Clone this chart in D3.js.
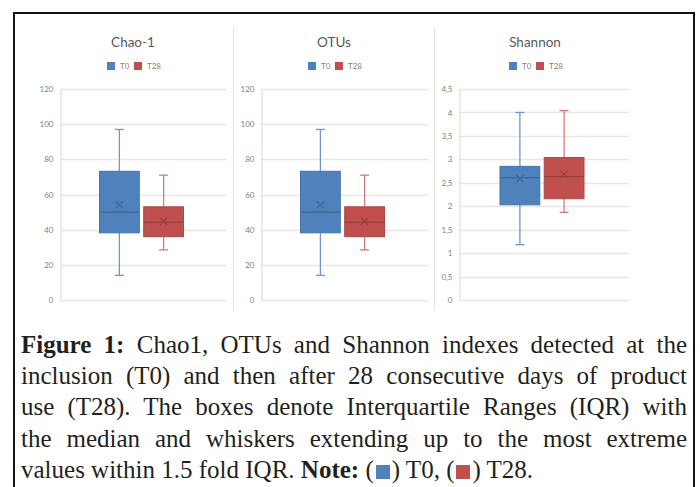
<!DOCTYPE html>
<html>
<head>
<meta charset="utf-8">
<script src="https://cdn.jsdelivr.net/npm/d3@7"></script>
<style>
  body { margin: 0; background: #fff; }
  #wrap { position: relative; width: 700px; height: 487px; overflow: hidden; }
  #chart { position: absolute; left: 0; top: 0; }
  #caption {
    position: absolute; left: 21px; top: 329px; width: 666px;
    font-family: "Liberation Serif", "Times New Roman", serif;
    font-size: 25px; line-height: 31.2px; color: #231f20;
  }
  #caption .line { text-align: justify; text-align-last: justify; white-space: nowrap; }
  #caption .line.last { text-align-last: left; }
  #caption .sq { display: inline-block; width: 14px; height: 14px; vertical-align: -1px; margin: 0 2px; }
</style>
</head>
<body>
<div id="wrap">
  <svg id="chart" width="700" height="487"></svg>
  <div id="caption"></div>
</div>
<script>
// data
const panelTitles = ["Chao-1", "OTUs", "Shannon"];
const groups = ["T0", "T28"];
const yMax = [120, 120, 4.5];
const yStep = [20, 20, 0.5];
const whiskerMin = [[14, 28.5], [14, 28.5], [1.18, 1.87]];
const q1 = [[38.2, 36], [38.2, 36], [2.03, 2.16]];
const median = [[50, 44.3], [50, 44.3], [2.61, 2.63]];
const q3 = [[73.2, 53], [73.2, 53], [2.85, 3.04]];
const whiskerMax = [[97, 71], [97, 71], [4.0, 4.04]];
const mean = [[54.3, 44.7], [54.3, 44.7], [2.59, 2.68]];

const fills = ["#4f81bd", "#c0504d"];
const edges = ["#4372aa", "#ad4744"];
const whiskerCols = ["#7196cb", "#d07d7a"];

// panel layout
const plotLeft = [60, 261, 459];
const plotRight = [227, 428, 629];
const titleX = [133, 334, 535];
const plotTop = 89, plotBottom = 300;

const svg = d3.select("#chart");

// outer frame
svg.append("rect")
    .attr("x", 14).attr("y", 13)
    .attr("width", 680).attr("height", 490)
    .attr("fill", "none").attr("stroke", "#111").attr("stroke-width", 2);

// panel separators
[233.5, 434.5].forEach(x => {
    svg.append("line")
        .attr("x1", x).attr("x2", x).attr("y1", 27).attr("y2", 310)
        .attr("stroke", "#e3e3e3").attr("stroke-width", 1);
});

const commaFmt = d => String(d).replace(".", ",");

panelTitles.forEach((title, p) => {
    const g = svg.append("g");
    const y = d3.scaleLinear().domain([0, yMax[p]]).range([plotBottom, plotTop]);
    const ticks = d3.range(0, yMax[p] + yStep[p] / 2, yStep[p]);

    // gridlines
    g.append("g")
        .selectAll("line")
        .data(ticks)
        .join("line")
            .attr("x1", plotLeft[p]).attr("x2", plotRight[p])
            .attr("y1", d => Math.round(y(d)) + 0.5)
            .attr("y2", d => Math.round(y(d)) + 0.5)
            .attr("stroke", "#e6e6e6").attr("stroke-width", 1.3);

    // y axis
    const axis = d3.axisLeft(y).tickValues(ticks).tickFormat(commaFmt).tickSize(0).tickPadding(7);
    const ax = g.append("g")
        .attr("transform", `translate(${plotLeft[p] + 0.5},0)`)
        .call(axis);
    ax.select(".domain").attr("stroke", "#e0e0e0").attr("stroke-width", 1.3);
    ax.selectAll("text")
        .attr("fill", "#7f7f7f")
        .style("font-family", "Lato, 'Open Sans', sans-serif")
        .style("font-size", "8px");

    // title
    g.append("text")
        .attr("x", titleX[p]).attr("y", 47)
        .attr("text-anchor", "middle")
        .attr("fill", "#595959")
        .style("font-family", "Lato, 'Open Sans', sans-serif")
        .style("font-size", "13.5px")
        .text(title);

    // legend
    const legendOffsets = [-26, 1];
    groups.forEach((grp, i) => {
        const lx = titleX[p] + legendOffsets[i];
        g.append("rect")
            .attr("x", lx).attr("y", 62).attr("width", 8).attr("height", 8)
            .attr("fill", fills[i]);
        g.append("text")
            .attr("x", lx + 13).attr("y", 69)
            .attr("fill", "#7f7f7f")
            .style("font-family", "Lato, 'Open Sans', sans-serif")
            .style("font-size", "8px")
            .text(grp);
    });

    // boxes
    const cx = (plotLeft[p] + plotRight[p]) / 2 - 2;
    const x = d3.scaleBand().domain(groups).range([cx - 42, cx + 42]).paddingInner(0.1);
    const bw = x.bandwidth();

    groups.forEach((grp, i) => {
        const mid = x(grp) + bw / 2;
        const bg = g.append("g");
        // whiskers
        bg.append("line")
            .attr("x1", mid).attr("x2", mid)
            .attr("y1", y(whiskerMax[p][i])).attr("y2", y(q3[p][i]))
            .attr("stroke", whiskerCols[i]).attr("stroke-width", 1.3);
        bg.append("line")
            .attr("x1", mid).attr("x2", mid)
            .attr("y1", y(q1[p][i])).attr("y2", y(whiskerMin[p][i]))
            .attr("stroke", whiskerCols[i]).attr("stroke-width", 1.3);
        [whiskerMax[p][i], whiskerMin[p][i]].forEach(v => {
            bg.append("line")
                .attr("x1", mid - 4.5).attr("x2", mid + 4.5)
                .attr("y1", y(v)).attr("y2", y(v))
                .attr("stroke", whiskerCols[i]).attr("stroke-width", 1.3);
        });
        // box
        bg.append("rect")
            .attr("x", x(grp)).attr("y", y(q3[p][i]))
            .attr("width", bw).attr("height", y(q1[p][i]) - y(q3[p][i]))
            .attr("fill", fills[i]).attr("stroke", edges[i]).attr("stroke-width", 1);
        // median
        bg.append("line")
            .attr("x1", x(grp)).attr("x2", x(grp) + bw)
            .attr("y1", y(median[p][i])).attr("y2", y(median[p][i]))
            .attr("stroke", d3.color(fills[i]).darker(0.7)).attr("stroke-width", 1.2);
        // mean marker
        const my = y(mean[p][i]), s = 3.5;
        bg.append("path")
            .attr("d", `M${mid - s},${my - s}L${mid + s},${my + s}M${mid - s},${my + s}L${mid + s},${my - s}`)
            .attr("stroke", d3.color(fills[i]).darker(0.7)).attr("stroke-width", 1.1)
            .attr("fill", "none");
    });
});

// caption
const captionLines = [
    [["b", "Figure 1:"], ["t", " Chao1, OTUs and Shannon indexes detected at the"]],
    [["t", "inclusion (T0) and then after 28 consecutive days of product"]],
    [["t", "use (T28). The boxes denote Interquartile Ranges (IQR) with"]],
    [["t", "the median and whiskers extending up to the most extreme"]],
    [["t", "values within 1.5 fold IQR. "], ["b", "Note:"], ["t", " ("], ["s", 0], ["t", ") T0, ("], ["s", 1], ["t", ") T28."]]
];
const cap = d3.select("#caption");
captionLines.forEach((parts, li) => {
    const line = cap.append("div").attr("class", "line" + (li === captionLines.length - 1 ? " last" : ""));
    parts.forEach(([kind, val]) => {
        if (kind === "b") line.append("b").text(val);
        else if (kind === "s") line.append("span").attr("class", "sq").style("background", fills[val]);
        else line.append("span").text(val);
    });
});
</script>
</body>
</html>
